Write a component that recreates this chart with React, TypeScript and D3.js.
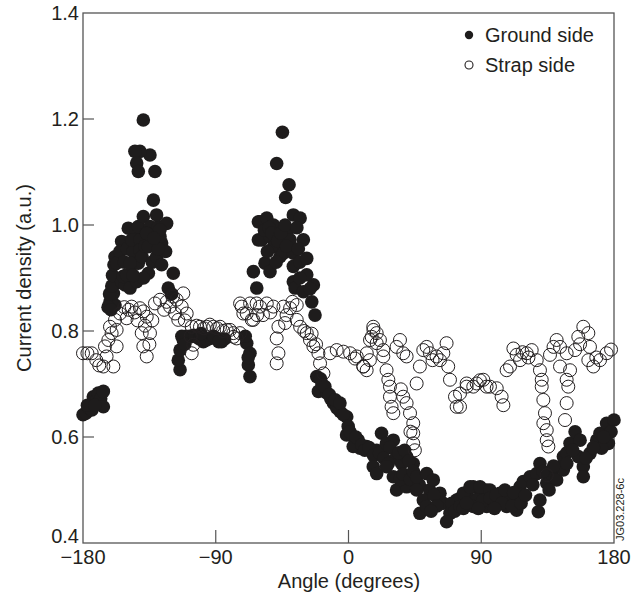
import React from "react";
import * as d3 from "d3";

// Ground side (filled circles): [angle in degrees, current density]
const groundSide: [number, number][] = [
  [-180, 0.642], [-178, 0.645], [-176, 0.655], [-174, 0.651], [-173, 0.676], [-171, 0.668],
  [-169.6, 0.683], [-168, 0.672], [-166.2, 0.686], [-166.2, 0.657], [-177, 0.66], [-172, 0.66],
  [-161.7, 0.855], [-158.3, 0.849], [-159.4, 0.871], [-157.2, 0.89], [-156.1, 0.896],
  [-163, 0.845], [-162, 0.87], [-160.5, 0.885], [-160, 0.905], [-159, 0.925], [-161, 0.84],
  [-153.8, 0.893], [-151.5, 0.887], [-148.1, 0.881], [-143.6, 0.893], [-152.7, 0.903],
  [-150.4, 0.906], [-158.3, 0.94], [-157.2, 0.928], [-153.8, 0.969], [-149.3, 0.994],
  [-155, 0.95], [-152, 0.93], [-150, 0.955], [-146, 0.95], [-145, 0.975], [-144, 0.99],
  [-147.0, 0.972], [-141.4, 0.972], [-142.5, 0.997], [-139.1, 1.016], [-141.4, 0.953],
  [-144.8, 0.928], [-142.5, 0.928], [-148.1, 0.928], [-135.7, 0.909], [-134.6, 0.997],
  [-140, 0.94], [-138, 0.96], [-137, 0.985], [-139, 0.9], [-146, 0.905], [-133, 0.93],
  [-128.9, 0.997], [-130.1, 1.019], [-132.3, 1.047], [-131.2, 1.101], [-134.6, 1.132],
  [-141.4, 1.139], [-144.8, 1.139], [-143.6, 1.117], [-142.5, 1.101], [-139.1, 1.198],
  [-126.7, 0.966], [-127.8, 0.978], [-123.3, 1.003], [-130.1, 0.94], [-126.7, 0.925],
  [-118.8, 0.909], [-122.2, 0.881], [-127.8, 0.991], [-136.8, 0.984], [-135.7, 0.959],
  [-120, 0.87], [-124, 0.95], [-129, 0.955], [-132, 0.975],
  [-114.2, 0.727], [-115.4, 0.745], [-114.2, 0.764], [-112.0, 0.783], [-107.5, 0.789],
  [-103.0, 0.789], [-98.4, 0.78], [-93.9, 0.786], [-89.4, 0.786], [-86.0, 0.78],
  [-96.2, 0.783], [-110.0, 0.79], [-105.0, 0.792], [-113, 0.79], [-111, 0.775],
  [-101, 0.785], [-91.5, 0.79], [-84, 0.785], [-100, 0.795], [-88, 0.78],
  [-69.0, 0.777], [-66.8, 0.758], [-67.9, 0.736], [-66.8, 0.714], [-70, 0.79], [-68, 0.75],
  [-61.1, 1.006], [-61.1, 0.972], [-64.5, 0.912], [-62.2, 0.881],
  [-44.8, 1.175], [-48.7, 1.116], [-40.3, 1.076], [-42.6, 1.052],
  [-60.0, 1.006], [-55.4, 1.013], [-50.9, 1.0], [-37.4, 1.019], [-32.8, 1.013],
  [-58.8, 0.972], [-53.2, 0.978], [-50.9, 0.959], [-40.8, 0.991], [-39.6, 0.972], [-30.6, 0.972],
  [-57, 0.99], [-54, 0.995], [-52, 0.985], [-48, 0.97], [-46, 0.985], [-43, 1.0], [-35, 0.995],
  [-56.6, 0.928], [-53.2, 0.912], [-46.4, 0.94], [-44.1, 0.947], [-37.4, 0.947], [-37.4, 0.922],
  [-55, 0.95], [-49, 0.93], [-42, 0.96], [-34, 0.955], [-33, 0.93],
  [-28.3, 0.937], [-37.4, 0.893], [-36.2, 0.881], [-30.6, 0.874], [-23.8, 0.887], [-28.3, 0.906],
  [-24.9, 0.855], [-22.7, 0.83], [-33, 0.9], [-26, 0.88],
  [-21.5, 0.714], [-20.4, 0.686], [-14.8, 0.683], [-10.2, 0.664], [-5.7, 0.648], [-1.2, 0.638],
  [-18, 0.7], [-12, 0.672], [-8, 0.655], [-19, 0.71], [-16, 0.695], [-13, 0.68], [-9, 0.67],
  [-5.8, 0.664], [-3.5, 0.642], [-0.2, 0.62], [-1.3, 0.604], [3.2, 0.601], [6.6, 0.594],
  [7.8, 0.579], [3.2, 0.582], [12.3, 0.582], [15.7, 0.572], [19.1, 0.575], [22.4, 0.607],
  [1, 0.61], [5, 0.6], [9, 0.585], [11, 0.575], [14, 0.58], [17, 0.565], [21, 0.57],
  [25.8, 0.588], [30.4, 0.594], [32.6, 0.563], [36.0, 0.55], [39.4, 0.563], [43.9, 0.55],
  [28, 0.58], [34, 0.57], [38, 0.575], [41, 0.555], [24, 0.56], [27, 0.55],
  [16.8, 0.544], [19.1, 0.531], [25.8, 0.544], [30.4, 0.525], [32.6, 0.5], [39.4, 0.506],
  [35, 0.52], [37, 0.53], [42, 0.52], [44, 0.535], [48, 0.51], [55, 0.5],
  [46.2, 0.525], [53.0, 0.531], [57.5, 0.519], [46.2, 0.5], [50.7, 0.481], [48.4, 0.456],
  [53.0, 0.469], [62.0, 0.494], [64.3, 0.475], [68.8, 0.456], [66.5, 0.44], [73.3, 0.481],
  [58, 0.49], [60, 0.47], [56, 0.46], [70, 0.475], [72, 0.46], [76, 0.485],
  [80.1, 0.494], [84.6, 0.506], [89.1, 0.487], [93.6, 0.5], [75.6, 0.469], [84.6, 0.481],
  [77.9, 0.494], [82.4, 0.506], [89.2, 0.506], [95.9, 0.5], [102.7, 0.494], [109.5, 0.487],
  [114.0, 0.481], [114.0, 0.462], [107.2, 0.469], [98.2, 0.475], [86.9, 0.481], [77.9, 0.465],
  [84.6, 0.469], [93.7, 0.469], [116.3, 0.506], [118.5, 0.516], [123.1, 0.525], [127.6, 0.531],
  [91, 0.48], [96, 0.485], [100, 0.49], [104, 0.475], [106, 0.5], [111, 0.47], [88, 0.465],
  [80, 0.475], [99, 0.465], [112, 0.495], [117, 0.475], [120, 0.49],
  [129.8, 0.55], [129.8, 0.481], [128.7, 0.459], [134.4, 0.513], [137.7, 0.531], [143.4, 0.544],
  [145.7, 0.563], [150.2, 0.588], [153.6, 0.61], [157.0, 0.594], [155.8, 0.563], [159.2, 0.544],
  [159.2, 0.525], [163.7, 0.569], [168.3, 0.594], [170.5, 0.607], [175.0, 0.626], [176.2, 0.588],
  [171.6, 0.579], [141.1, 0.519], [145.7, 0.538], [180, 0.632], [178, 0.61],
  [125, 0.51], [132, 0.535], [136, 0.5], [139, 0.545], [148, 0.57], [152, 0.575], [161, 0.56],
  [166, 0.58], [173, 0.6], [148, 0.55],
];

// Strap side (open circles)
const strapSide: [number, number][] = [
  [-180, 0.758], [-177, 0.758], [-174.1, 0.758], [-171, 0.745], [-169, 0.735],
  [-166.2, 0.733], [-164.0, 0.752], [-165.1, 0.771], [-162.8, 0.783], [-160.6, 0.796],
  [-161.7, 0.808], [-157.2, 0.802], [-157.2, 0.771], [-159.4, 0.733], [-158.3, 0.821],
  [-154.9, 0.833], [-150.4, 0.824], [-147.0, 0.846], [-141.4, 0.843], [-139.1, 0.837],
  [-152, 0.845], [-145, 0.835], [-143, 0.82], [-149, 0.84],
  [-136.8, 0.827], [-140.2, 0.796], [-139.1, 0.771], [-136.8, 0.752], [-134.6, 0.796],
  [-138, 0.81], [-135, 0.775], [-133, 0.82],
  [-131.2, 0.852], [-127.8, 0.859], [-123.3, 0.855], [-121.0, 0.846], [-117.6, 0.833],
  [-115.4, 0.821], [-113.1, 0.846], [-112.0, 0.871], [-116.5, 0.859], [-109.7, 0.833],
  [-125, 0.84], [-119, 0.865], [-111, 0.82],
  [-106.3, 0.808], [-106.3, 0.758], [-105.2, 0.774], [-100.7, 0.808], [-96.2, 0.808],
  [-91.6, 0.808], [-87.1, 0.808], [-82.6, 0.802], [-78.1, 0.796], [-73.6, 0.796],
  [-103, 0.81], [-98, 0.805], [-94, 0.812], [-89, 0.805], [-85, 0.8], [-107, 0.79],
  [-72.4, 0.846], [-69.0, 0.833], [-65.6, 0.821], [-62.3, 0.852],
  [-80.3, 0.802], [-78.0, 0.789], [-75.8, 0.786],
  [-73.5, 0.852], [-71.3, 0.833], [-66.7, 0.852], [-64.5, 0.821], [-60.0, 0.846],
  [-55.4, 0.852], [-50.9, 0.846], [-47.5, 0.808], [-44.1, 0.846], [-39.6, 0.843],
  [-58, 0.83], [-53, 0.835], [-42, 0.83], [-38, 0.855], [-62, 0.83],
  [-35.1, 0.849], [-48.7, 0.786], [-47.5, 0.758], [-48.7, 0.739], [-43.0, 0.815],
  [-35.1, 0.821], [-32.8, 0.808], [-28.3, 0.796], [-26.1, 0.783], [-23.8, 0.771],
  [-30, 0.8], [-25, 0.795], [-22, 0.775],
  [-20.4, 0.758], [-19.3, 0.739], [-17.0, 0.72], [-12.5, 0.758], [-8.0, 0.764],
  [-3.5, 0.761], [1.1, 0.758], [5.6, 0.752], [10.1, 0.733], [12.4, 0.758], [14.6, 0.783],
  [16.9, 0.802], [19.1, 0.777],
  [4.4, 0.748], [10.0, 0.733], [12.3, 0.726], [14.5, 0.745], [15.7, 0.789], [16.8, 0.808],
  [19.1, 0.796], [21.3, 0.783], [23.6, 0.764], [23.6, 0.752], [25.8, 0.726], [27.0, 0.708],
  [28.1, 0.695], [28.1, 0.676], [29.2, 0.657], [30.4, 0.645], [32.6, 0.77], [34.9, 0.783],
  [37.1, 0.758], [39.4, 0.752], [37.1, 0.676], [39.4, 0.664], [41.7, 0.645], [43.9, 0.626],
  [43.9, 0.607], [43.9, 0.588], [45.0, 0.575], [46.2, 0.701], [48.4, 0.733], [50.7, 0.764],
  [55.2, 0.758], [59.7, 0.752], [62.0, 0.745], [64.3, 0.758], [66.5, 0.777], [67.6, 0.733],
  [53, 0.77], [57, 0.745], [35.5, 0.69], [42, 0.61],
  [68.8, 0.708], [72.2, 0.676], [73.3, 0.657], [75.6, 0.682], [80.1, 0.701], [84.6, 0.695],
  [89.1, 0.707], [93.6, 0.695],
  [75.6, 0.657], [80.1, 0.695], [86.9, 0.701], [91.4, 0.708], [95.9, 0.695], [100.5, 0.692],
  [103.8, 0.676], [105.0, 0.66], [107.2, 0.726], [109.5, 0.733], [111.8, 0.767], [116.3, 0.745],
  [120.8, 0.758], [124.2, 0.764], [127.6, 0.745], [129.8, 0.726], [131.0, 0.708], [131.0, 0.695],
  [114, 0.755], [118, 0.76], [122, 0.75],
  [132.1, 0.67], [133.2, 0.645], [132.1, 0.626], [134.4, 0.613], [134.4, 0.594], [135.5, 0.582],
  [136.6, 0.755], [141.1, 0.783], [143.4, 0.733], [143.4, 0.77], [147.9, 0.758], [150.2, 0.726],
  [147.9, 0.708], [149.0, 0.695], [147.9, 0.664], [146.8, 0.632], [153.6, 0.764], [155.8, 0.789],
  [159.2, 0.808], [162.6, 0.796], [163.7, 0.77], [162.6, 0.745], [166.0, 0.733], [170.5, 0.745],
  [175.0, 0.758], [178, 0.765], [134.4, 0.528], [139, 0.77], [157, 0.775], [168, 0.75],
];

const xTicks = [-180, -90, 0, 90, 180];
const yTicks = [0.4, 0.6, 0.8, 1.0, 1.2, 1.4];

export default function App() {
  const width = 643;
  const height = 599;
  const plot = { left: 83, right: 614, top: 13, bottom: 543 };
  const font = "'Liberation Sans', Arial, sans-serif";
  const ink = "#231f20";

  const x = d3.scaleLinear().domain([-180, 180]).range([plot.left, plot.right]);
  const y = d3.scaleLinear().domain([0.4, 1.4]).range([plot.bottom, plot.top]);

  return (
    <svg
      width={width}
      height={height}
      style={{ position: "absolute", left: 0, top: 0, background: "#fff" }}
      fontFamily={font}
    >
      {/* frame */}
      <rect
        x={plot.left}
        y={plot.top}
        width={plot.right - plot.left}
        height={plot.bottom - plot.top}
        fill="none"
        stroke="#555"
        strokeWidth={1.3}
      />

      {/* x ticks, inward */}
      {xTicks.map((t) => (
        <g key={t} transform={`translate(${x(t)},0)`}>
          {t > -180 && t < 180 && (
            <line y1={plot.bottom} y2={plot.bottom - 13} stroke="#555" strokeWidth={1.2} />
          )}
          <text y={564} textAnchor="middle" fontSize={20} fill={ink}>
            {t < 0 ? `\u2212${Math.abs(t)}` : t}
          </text>
        </g>
      ))}

      {/* y ticks, inward */}
      {yTicks.map((t) => (
        <g key={t} transform={`translate(0,${y(t)})`}>
          {t > 0.4 && t < 1.4 && (
            <line x1={plot.left} x2={plot.left + 11} stroke="#555" strokeWidth={1.2} />
          )}
          <text
            x={79}
            y={t === 0.4 ? -7 : 0}
            dy="0.35em"
            textAnchor="end"
            fontSize={20}
            fill={ink}
          >
            {t.toFixed(1)}
          </text>
        </g>
      ))}

      {/* axis titles */}
      <text x={349} y={588} textAnchor="middle" fontSize={20} fill={ink}>
        Angle (degrees)
      </text>
      <text
        transform={`translate(31,${(plot.top + plot.bottom) / 2}) rotate(-90)`}
        textAnchor="middle"
        fontSize={20}
        fill={ink}
      >
        Current density (a.u.)
      </text>

      {/* data */}
      {groundSide.map(([a, v], i) => (
        <circle key={`g${i}`} cx={x(a)} cy={y(v)} r={6.8} fill="#1e1c1c" />
      ))}
      {strapSide.map(([a, v], i) => (
        <circle
          key={`s${i}`}
          cx={x(a)}
          cy={y(v)}
          r={6.5}
          fill="none"
          stroke="#231f20"
          strokeWidth={1}
        />
      ))}

      {/* legend */}
      <circle cx={469} cy={35} r={4.2} fill="#1e1c1c" />
      <text x={485} y={35} dy="0.35em" fontSize={20} fill={ink}>
        Ground side
      </text>
      <circle cx={469} cy={65} r={4} fill="none" stroke="#231f20" strokeWidth={1.1} />
      <text x={485} y={65} dy="0.35em" fontSize={20} fill={ink}>
        Strap side
      </text>

      {/* figure id */}
      <text transform={`translate(624,541) rotate(-90)`} fontSize={11} fill={ink}>
        JG03.228-6c
      </text>
    </svg>
  );
}
